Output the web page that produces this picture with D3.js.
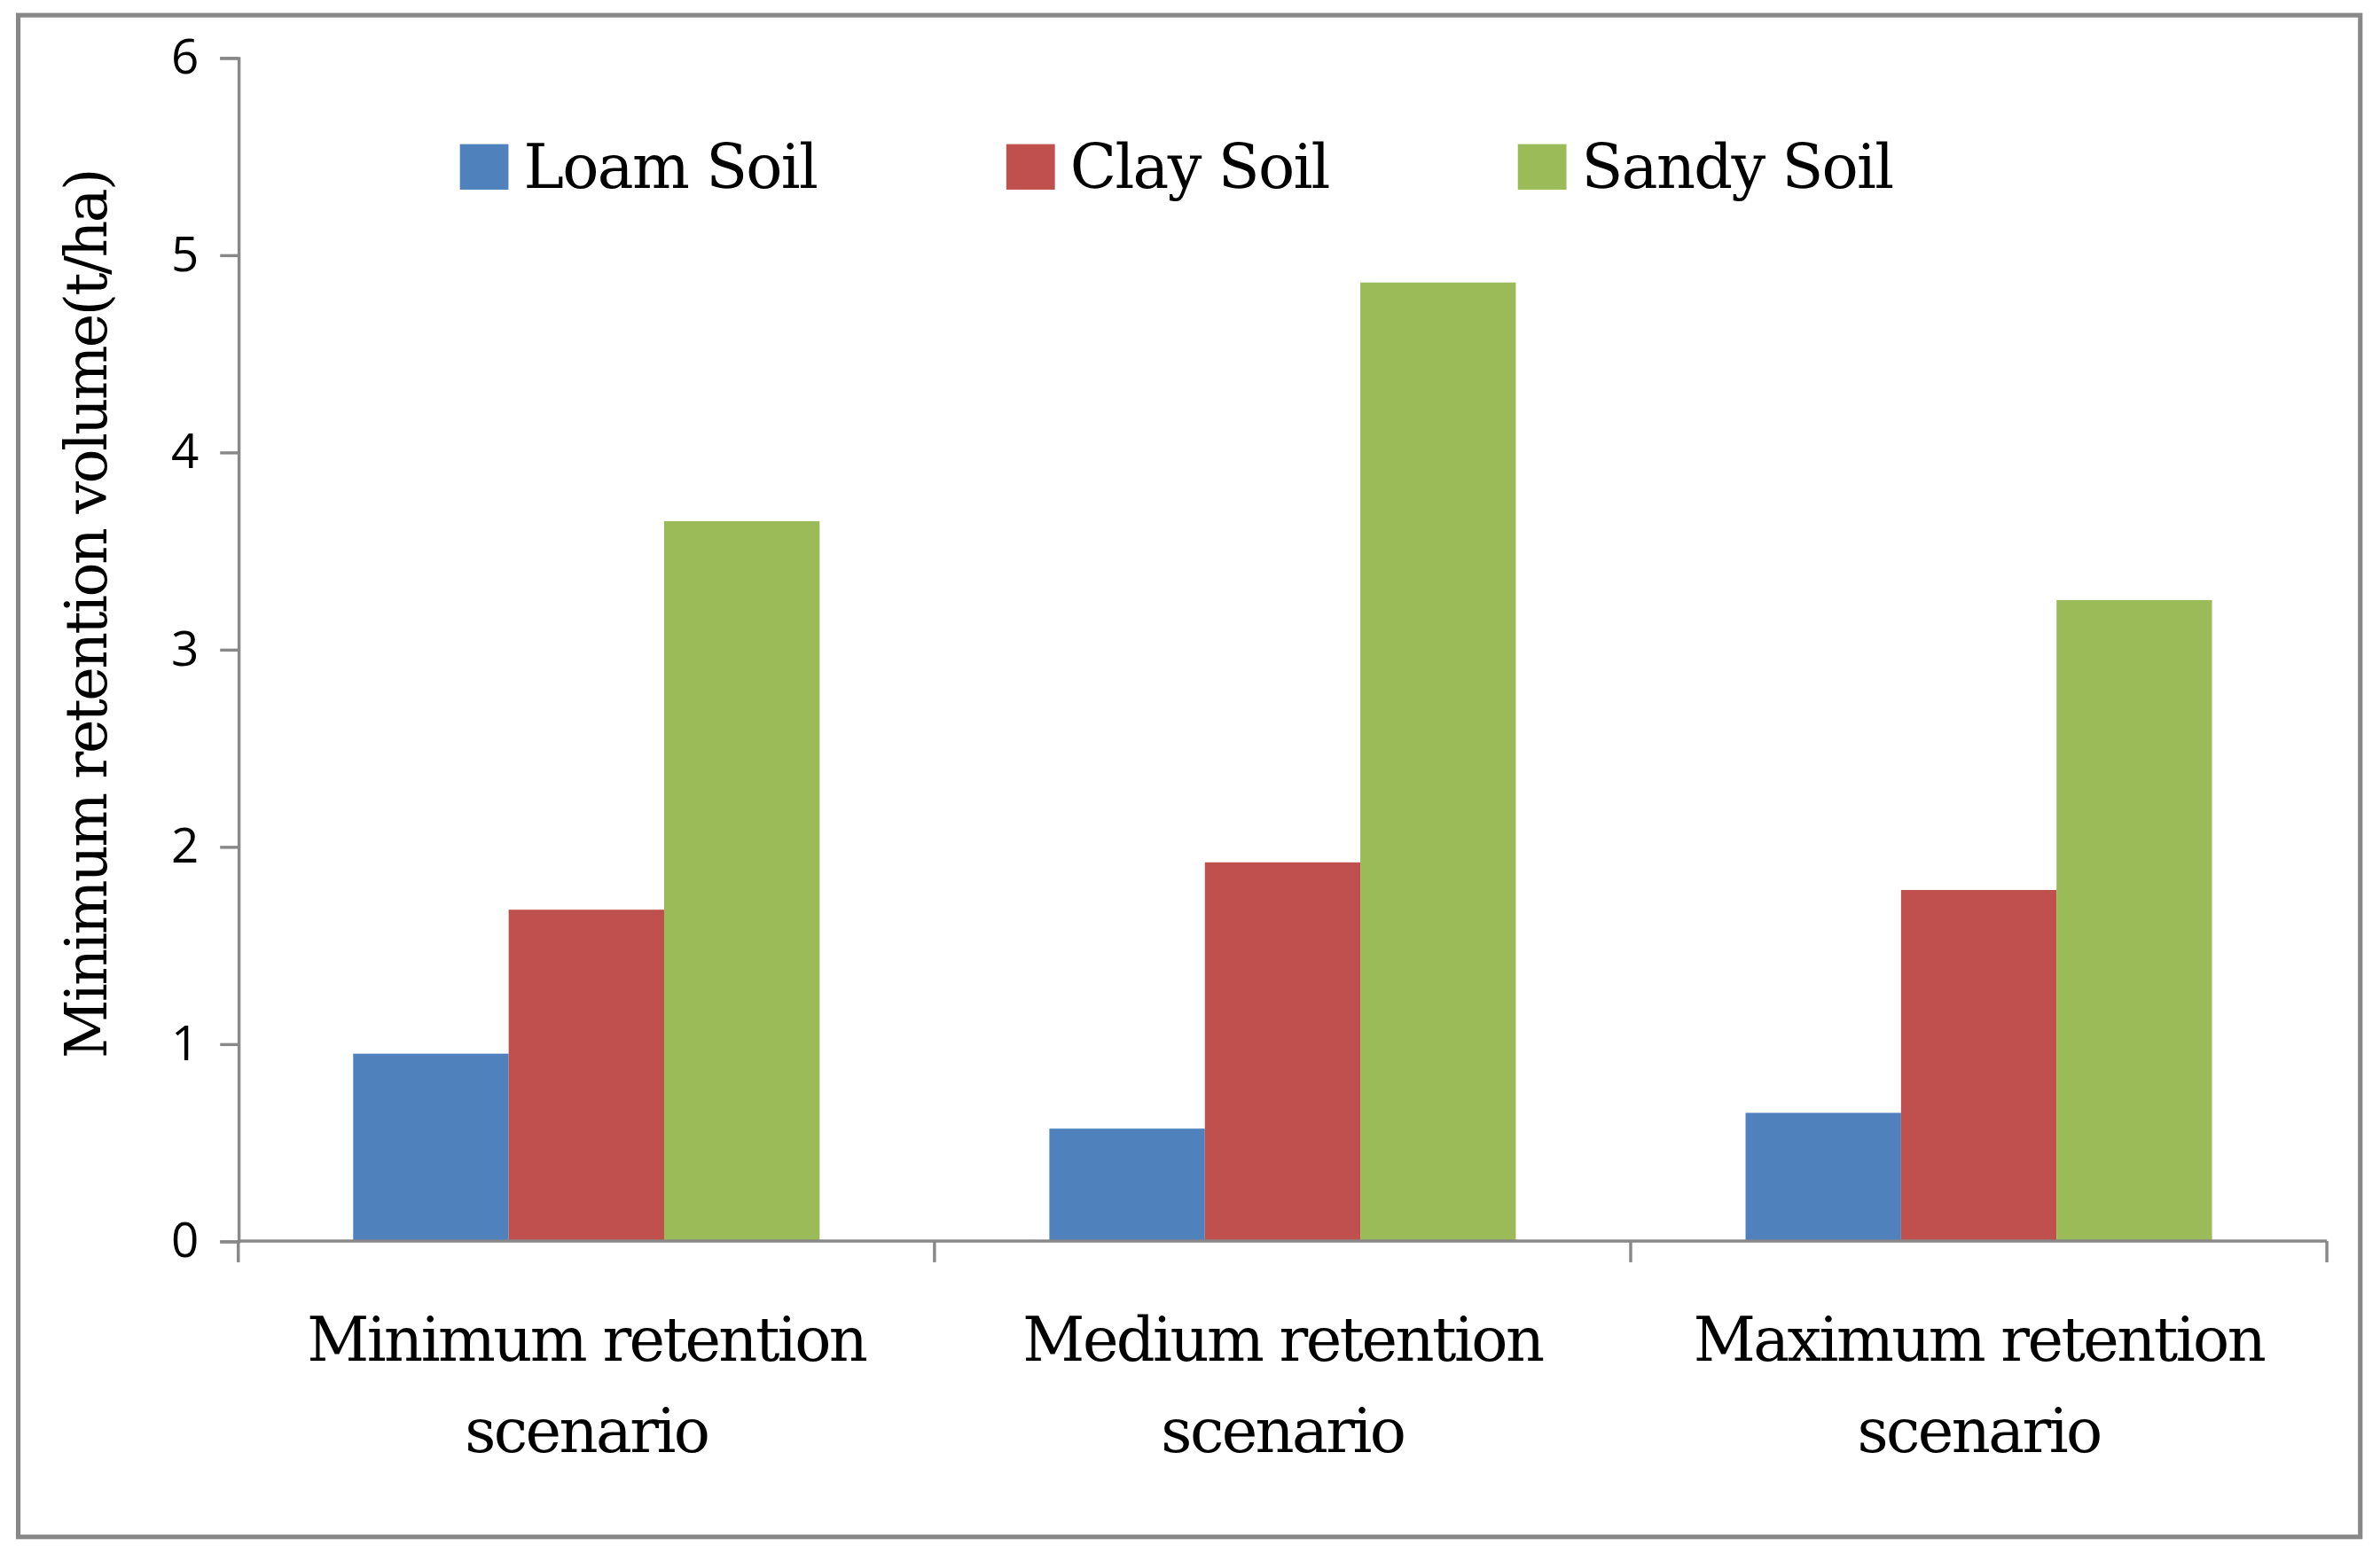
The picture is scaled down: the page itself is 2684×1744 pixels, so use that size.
<!DOCTYPE html>
<html>
<head>
<script src="https://d3js.org/d3.v7.min.js"></script>
<style>body{margin:0;background:#fff}</style>
</head>
<body>
<script>
// chart data
var categories = [["Minimum retention", "scenario"], ["Medium retention", "scenario"], ["Maximum retention", "scenario"]];
var seriesNames = ["Loam Soil", "Clay Soil", "Sandy Soil"];
var seriesColors = ["#4f81bd", "#c0504d", "#9bbb59"];
var loam = [0.95, 0.57, 0.65];
var clay = [1.68, 1.92, 1.78];
var sandy = [3.65, 4.86, 3.25];
var yTicks = [0, 1, 2, 3, 4, 5, 6];

var series = [loam, clay, sandy];
var W = 1568, H = 1019;
var svg = d3.select("body").append("svg")
  .attr("width", 2684).attr("height", 1744)
  .attr("viewBox", "0 0 " + W + " " + H)
  .attr("preserveAspectRatio", "none");

svg.append("rect").attr("x", 12).attr("y", 10).attr("width", 1543).attr("height", 1003)
  .attr("fill", "#fff").attr("stroke", "#888").attr("stroke-width", 3);

var x0 = 157, x1 = 1533, yb = 818, yt = 38;
var x = d3.scaleBand().domain(d3.range(categories.length)).range([x0, x1]).paddingInner(0.33).paddingOuter(0.165);
var y = d3.scaleLinear().domain([0, 6]).range([yb, yt]);
var xs = d3.scaleBand().domain(d3.range(series.length)).range([0, x.bandwidth()]);

// bars
series.forEach(function (s, si) {
  svg.append("g").selectAll("rect").data(s).enter().append("rect")
    .attr("x", function (d, i) { return x(i) + xs(si); })
    .attr("y", function (d) { return y(d); })
    .attr("width", xs.bandwidth())
    .attr("height", function (d) { return yb - y(d); })
    .attr("fill", seriesColors[si]);
});

// y axis
var ya = svg.append("g").attr("transform", "translate(" + x0 + ",0)")
  .call(d3.axisLeft(y).tickValues(yTicks).tickSize(12).tickPadding(14).tickFormat(d3.format("d")));
ya.selectAll("path,line").attr("stroke", "#888").attr("stroke-width", 2);
ya.selectAll("text").attr("font-family", "Open Sans, sans-serif").attr("font-size", 32).attr("fill", "#000");

// x axis
var step = (x1 - x0) / categories.length;
svg.append("line").attr("x1", x0).attr("x2", x1).attr("y1", yb).attr("y2", yb).attr("stroke", "#888").attr("stroke-width", 2);
svg.append("g").selectAll("line").data(d3.range(categories.length + 1)).enter().append("line")
  .attr("x1", function (d) { return x0 + d * step; }).attr("x2", function (d) { return x0 + d * step; })
  .attr("y1", yb).attr("y2", yb + 14).attr("stroke", "#888").attr("stroke-width", 2);

svg.append("g").selectAll("text").data(categories).enter().append("text")
  .attr("text-anchor", "middle")
  .attr("font-family", "DejaVu Serif, serif").attr("font-size", 40).attr("letter-spacing", -1.5)
  .each(function (d, i) {
    var t = d3.select(this);
    d.forEach(function (line, li) {
      t.append("tspan").attr("x", x0 + (i + 0.5) * step).attr("y", 897 + li * 60).text(line);
    });
  });

// y label
svg.append("text").attr("transform", "translate(70,405) rotate(-90)")
  .attr("text-anchor", "middle").attr("font-family", "DejaVu Serif, serif")
  .attr("font-size", 38).attr("letter-spacing", -1.5).text("Minimum retention volume(t/ha)");

// legend
var legX = [303, 663, 1000];
seriesNames.forEach(function (n, i) {
  svg.append("rect").attr("x", legX[i]).attr("y", 95).attr("width", 32).attr("height", 30).attr("fill", seriesColors[i]);
  svg.append("text").attr("x", legX[i] + 42).attr("y", 124)
    .attr("font-family", "DejaVu Serif, serif").attr("font-size", 40).attr("letter-spacing", -1).text(n);
});
</script>
</body>
</html>
